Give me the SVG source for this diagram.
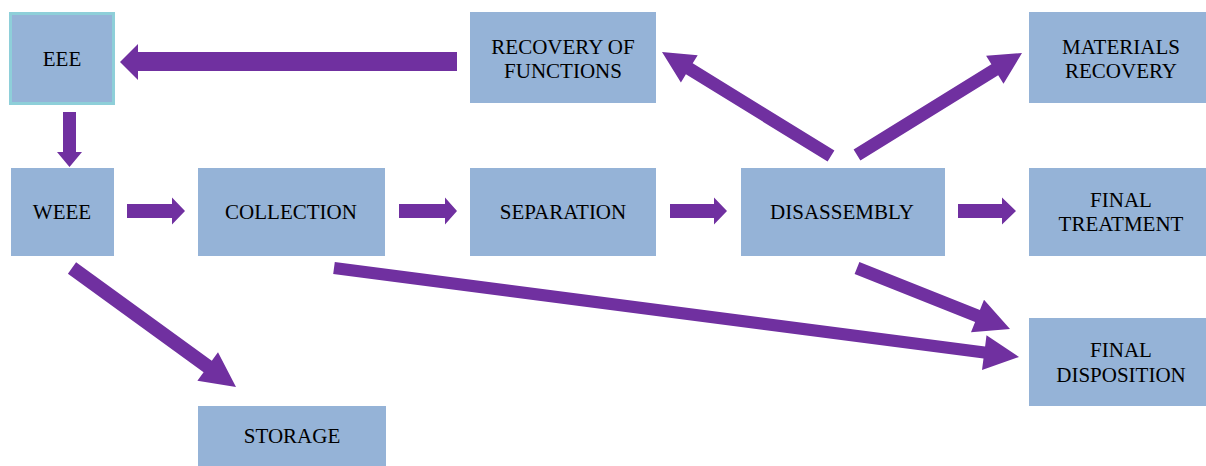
<svg xmlns="http://www.w3.org/2000/svg" width="1206" height="466" viewBox="0 0 1206 466">
<style>
.box{fill:#95B3D7}
.eee{stroke:#8ECFD9;stroke-width:3}
.arr{fill:#7030A0}
</style>
<rect width="1206" height="466" fill="#fff"/>
<g id="connectors">
<polygon class="arr" points="457,52 138,52 138,44 120,62 138,80 138,71 457,71"/>
<polygon class="arr" points="63,112 76,112 76,152 82,152 69.5,167 57,152 63,152"/>
<polygon class="arr" points="127,204 172,204 172,197.5 185,211 172,224.5 172,218 127,218"/>
<polygon class="arr" points="399,204 445,204 445,197.5 457,211 445,224.5 445,218 399,218"/>
<polygon class="arr" points="670,204 714,204 714,197.5 727,211 714,224.5 714,218 670,218"/>
<polygon class="arr" points="958,204 1002,204 1002,197.5 1016,211 1002,224.5 1002,218 958,218"/>
<polygon class="arr" points="834.4,150.5 692.7,63.3 697.7,55.2 662,52 680.9,82.4 685.9,74.3 827.6,161.5"/>
<polygon class="arr" points="860.4,160.5 998.2,75.3 1003.5,83.8 1022,53 986.1,55.8 991.4,64.3 853.6,149.5"/>
<polygon class="arr" points="67.9,273.7 203.6,372.2 197.4,380.7 236,387 218,352.3 211.8,360.8 76.1,262.3"/>
<polygon class="arr" points="333.2,274 983.5,358.5 982,369.9 1019,357 986.5,335.2 985.1,346.6 334.8,262"/>
<polygon class="arr" points="854.6,274 975.1,322 971,332.3 1010,329 984,299.7 979.9,310 859.4,262"/>
</g>
<g id="eee">
<rect class="box eee" x="10.5" y="13.5" width="103" height="90"/>
<text x="62" y="66" font-family="serif" font-size="21" text-anchor="middle">EEE</text>
</g>
<g id="recovery-functions">
<rect class="box" x="470" y="12" width="186" height="91"/>
<text x="563" y="54" font-family="serif" font-size="21" text-anchor="middle">RECOVERY OF</text>
<text x="563" y="78" font-family="serif" font-size="21" text-anchor="middle">FUNCTIONS</text>
</g>
<g id="materials-recovery">
<rect class="box" x="1029" y="12" width="177" height="91"/>
<text x="1121" y="54" font-family="serif" font-size="21" text-anchor="middle">MATERIALS</text>
<text x="1121" y="78" font-family="serif" font-size="21" text-anchor="middle">RECOVERY</text>
</g>
<g id="weee">
<rect class="box" x="11" y="168" width="103" height="88"/>
<text x="62" y="219" font-family="serif" font-size="21" text-anchor="middle">WEEE</text>
</g>
<g id="collection">
<rect class="box" x="198" y="168" width="187" height="88"/>
<text x="291" y="219" font-family="serif" font-size="21" text-anchor="middle">COLLECTION</text>
</g>
<g id="separation">
<rect class="box" x="470" y="168" width="186" height="88"/>
<text x="563" y="219" font-family="serif" font-size="21" text-anchor="middle">SEPARATION</text>
</g>
<g id="disassembly">
<rect class="box" x="741" y="168" width="204" height="88"/>
<text x="842" y="219" font-family="serif" font-size="21" text-anchor="middle">DISASSEMBLY</text>
</g>
<g id="final-treatment">
<rect class="box" x="1029" y="168" width="177" height="88"/>
<text x="1121" y="207" font-family="serif" font-size="21" text-anchor="middle">FINAL</text>
<text x="1121" y="231" font-family="serif" font-size="21" text-anchor="middle">TREATMENT</text>
</g>
<g id="final-disposition">
<rect class="box" x="1029" y="318" width="177" height="88"/>
<text x="1121" y="357" font-family="serif" font-size="21" text-anchor="middle">FINAL</text>
<text x="1121" y="382" font-family="serif" font-size="21" text-anchor="middle">DISPOSITION</text>
</g>
<g id="storage">
<rect class="box" x="198" y="406" width="188" height="60"/>
<text x="292" y="443" font-family="serif" font-size="21" text-anchor="middle">STORAGE</text>
</g>
</svg>
